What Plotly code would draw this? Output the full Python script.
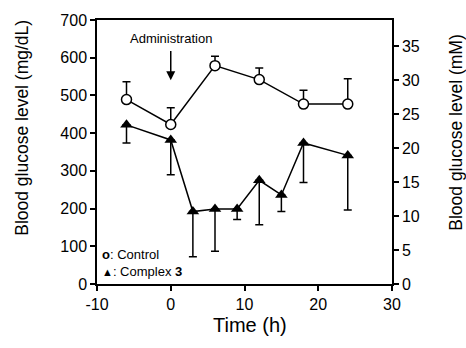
import plotly.graph_objects as go

time_control = [-6, 0, 6, 12, 18, 24]
glucose_control = [489, 423, 579, 542, 477, 477]
err_control_up = [47, 44, 25, 31, 37, 67]

time_complex = [-6, 0, 3, 6, 9, 12, 15, 18, 24]
glucose_complex = [422, 382, 192, 199, 199, 275, 236, 374, 341]
err_complex_down = [48, 92, 120, 112, 28, 118, 44, 105, 145]

MGDL_PER_MM = 18.0

FONT = "Liberation Sans, Arial, sans-serif"

fig = go.Figure()

fig.add_trace(go.Scatter(
    x=time_control, y=glucose_control, mode="lines+markers",
    line=dict(color="black", width=1.5),
    marker=dict(symbol="circle", size=10, color="white", line=dict(color="black", width=1.5)),
    error_y=dict(type="data", symmetric=False, array=err_control_up,
                 arrayminus=[0] * len(err_control_up), color="black", thickness=1.5, width=4),
    showlegend=False, hoverinfo="skip",
))

fig.add_trace(go.Scatter(
    x=time_complex, y=glucose_complex, mode="lines+markers",
    line=dict(color="black", width=1.5),
    marker=dict(symbol="triangle-up", size=11, color="black"),
    error_y=dict(type="data", symmetric=False, array=[0] * len(err_complex_down),
                 arrayminus=err_complex_down, color="black", thickness=1.5, width=4),
    showlegend=False, hoverinfo="skip",
))

# invisible trace to activate the mM axis
fig.add_trace(go.Scatter(
    x=time_control, y=[v / MGDL_PER_MM for v in glucose_control], yaxis="y2",
    mode="markers", marker=dict(opacity=0), showlegend=False, hoverinfo="skip",
))

axis_common = dict(showline=True, linecolor="black", linewidth=1.5, ticks="outside",
                   ticklen=5, tickwidth=1.5, tickcolor="black", showgrid=False,
                   zeroline=False, tickfont=dict(family=FONT, size=16, color="black"))

fig.update_layout(
    width=466, height=348,
    margin=dict(l=97, r=74, t=17, b=64),
    plot_bgcolor="white", paper_bgcolor="white",
    font=dict(family=FONT, color="black"),
    xaxis=dict(range=[-10, 30], tickvals=[-10, 0, 10, 20, 30],
               ticktext=["-10", "0", "10", "20", "30"], mirror=True, **axis_common),
    yaxis=dict(range=[0, 700], tickvals=[0, 100, 200, 300, 400, 500, 600, 700], **axis_common),
    yaxis2=dict(range=[0, 700 / MGDL_PER_MM], tickvals=[0, 5, 10, 15, 20, 25, 30, 35],
                overlaying="y", side="right", **axis_common),
)

# axis titles
fig.add_annotation(x=0.519, y=-0.154, xref="paper", yref="paper", text="Time (h)",
                   showarrow=False, xanchor="center", yanchor="middle",
                   font=dict(family=FONT, size=20, color="black"))
fig.add_annotation(x=-0.254, y=0.592, xref="paper", yref="paper", text="Blood glucose level (mg/dL)",
                   showarrow=False, textangle=-90, xanchor="center", yanchor="middle",
                   font=dict(family=FONT, size=17.5, color="black"))
fig.add_annotation(x=1.217, y=0.573, xref="paper", yref="paper", text="Blood glucose level (mM)",
                   showarrow=False, textangle=-90, xanchor="center", yanchor="middle",
                   font=dict(family=FONT, size=17.5, color="black"))

fig.add_annotation(x=0, y=650, xref="x", yref="y", text="Administration", showarrow=False,
                   font=dict(family=FONT, size=13, color="black"))
fig.add_annotation(x=0, y=540, ax=0, ay=622, xref="x", yref="y", axref="x", ayref="y",
                   text="", showarrow=True, arrowhead=2, arrowsize=1.2, arrowwidth=1.5,
                   arrowcolor="black")

# legend (two lines in one text block)
fig.add_annotation(x=0.015, y=0.081, xref="paper", yref="paper", xanchor="left", yanchor="middle",
                   align="left", borderpad=0,
                   text="<b>o</b>: Control<br><span style='font-size:11px'>▲</span>: Complex <b>3</b>",
                   showarrow=False, font=dict(family=FONT, size=13, color="black"))

fig.write_html("out.html")
